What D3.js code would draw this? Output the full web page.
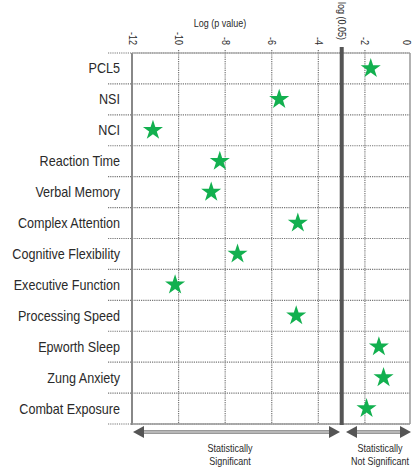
<!DOCTYPE html>
<html><head><meta charset="utf-8">
<script src="https://cdn.jsdelivr.net/npm/d3@7"></script>
<style>body{margin:0;background:#fff}svg{display:block}</style>
</head><body>
<svg id="c" width="414" height="468"></svg>
<script>
const categories = ["PCL5","NSI","NCI","Reaction Time","Verbal Memory","Complex Attention","Cognitive Flexibility","Executive Function","Processing Speed","Epworth Sleep","Zung Anxiety","Combat Exposure"];
const logP = [-1.75,-5.68,-11.1,-8.23,-8.6,-4.88,-7.47,-10.15,-4.95,-1.4,-1.2,-1.93];
const tickValues = [-12,-10,-8,-6,-4,-2,0];
const threshold = Math.log(0.05);

const svg = d3.select("#c");
const FONT = "'Liberation Sans',Arial,sans-serif";
const NARROW = 0.9;
const L = 132, R = 410, T = 53, B = 424;
const x = d3.scaleLinear().domain([-12,0]).range([L, 411.5]);
const y = d3.scaleBand().domain(categories).range([T, B]);

function narrowText(g, tx, ty, str, size, anchor, rot) {
  return g.append("g").attr("transform", `translate(${tx},${ty})` + (rot ? ` rotate(${rot})` : "") + ` scale(${NARROW},1)`)
    .append("text").attr("text-anchor", anchor).attr("font-family", FONT).attr("font-size", size)
    .attr("fill", "#2a2a2a").text(str);
}

// horizontal dashed gridlines
const hLines = d3.range(categories.length + 1).map(i => T + i * y.step());
svg.append("g").selectAll("line").data(hLines).join("line")
  .attr("x1", 108).attr("x2", R).attr("y1", d => d).attr("y2", d => d)
  .attr("stroke", "#777").attr("stroke-width", 1.2).attr("stroke-dasharray", "1.2,1");

// vertical dashed gridlines
svg.append("g").selectAll("line").data(tickValues.slice(1, -1)).join("line")
  .attr("x1", d => x(d)).attr("x2", d => x(d)).attr("y1", T - 3).attr("y2", B)
  .attr("stroke", "#777").attr("stroke-width", 1.2).attr("stroke-dasharray", "1.2,1");

// frame
svg.append("line").attr("x1", L).attr("x2", L).attr("y1", T).attr("y2", B + 1).attr("stroke", "#888").attr("stroke-width", 2);
svg.append("line").attr("x1", R).attr("x2", R).attr("y1", T).attr("y2", B).attr("stroke", "#999").attr("stroke-width", 1.5);
svg.append("line").attr("x1", L).attr("x2", R).attr("y1", B).attr("y2", B).attr("stroke", "#999").attr("stroke-width", 1.5);
svg.append("line").attr("x1", L).attr("x2", R).attr("y1", T).attr("y2", T).attr("stroke", "#999").attr("stroke-width", 1.2);

// threshold line
svg.append("line").attr("x1", x(threshold)).attr("x2", x(threshold)).attr("y1", 47).attr("y2", B + 1)
  .attr("stroke", "#555").attr("stroke-width", 4);

// top axis tick labels (rotated)
const gt = svg.append("g");
tickValues.forEach(d => {
  narrowText(gt, Math.min(x(d), 406) - 3.5, 45, d === 0 ? "0" : "-" + Math.abs(d), 10, "end", 90);
});
narrowText(svg, x(threshold) - 4, 2, "log (0.05)", 10, "start", 90);
narrowText(svg, 220, 27, "Log (p value)", 10, "middle");

// category labels
const gc = svg.append("g");
categories.forEach(c => narrowText(gc, 120, y(c) + y.bandwidth() / 2 + 5, c, 14, "end"));

// stars
const star = d3.symbol().type(d3.symbolStar).size(125);
svg.append("g").selectAll("path").data(categories).join("path")
  .attr("transform", (d, i) => `translate(${x(logP[i])},${y(d) + y.bandwidth() / 2})`)
  .attr("d", star).attr("fill", "#12b04f");

// bottom arrows
function arrow(x1, x2, yy) {
  const g = svg.append("g");
  g.append("line").attr("x1", x1 + 8).attr("x2", x2 - 8).attr("y1", yy).attr("y2", yy)
    .attr("stroke", "#777").attr("stroke-width", 3.5);
  g.append("line").attr("x1", x1 + 8).attr("x2", x2 - 8).attr("y1", yy).attr("y2", yy)
    .attr("stroke", "#ccc").attr("stroke-width", 1.5);
  g.append("path").attr("d", `M${x1},${yy}L${x1 + 11},${yy - 6}L${x1 + 11},${yy + 6}Z`).attr("fill", "#555");
  g.append("path").attr("d", `M${x2},${yy}L${x2 - 11},${yy - 6}L${x2 - 11},${yy + 6}Z`).attr("fill", "#555");
}
arrow(133, 340, 432);
arrow(346, 411, 432);

const notes = [["Statistically", "Significant", 230], ["Statistically", "Not Significant", 380]];
notes.forEach(n => {
  narrowText(svg, n[2], 452, n[0], 10, "middle");
  narrowText(svg, n[2], 465, n[1], 10, "middle");
});
</script>
</body></html>
